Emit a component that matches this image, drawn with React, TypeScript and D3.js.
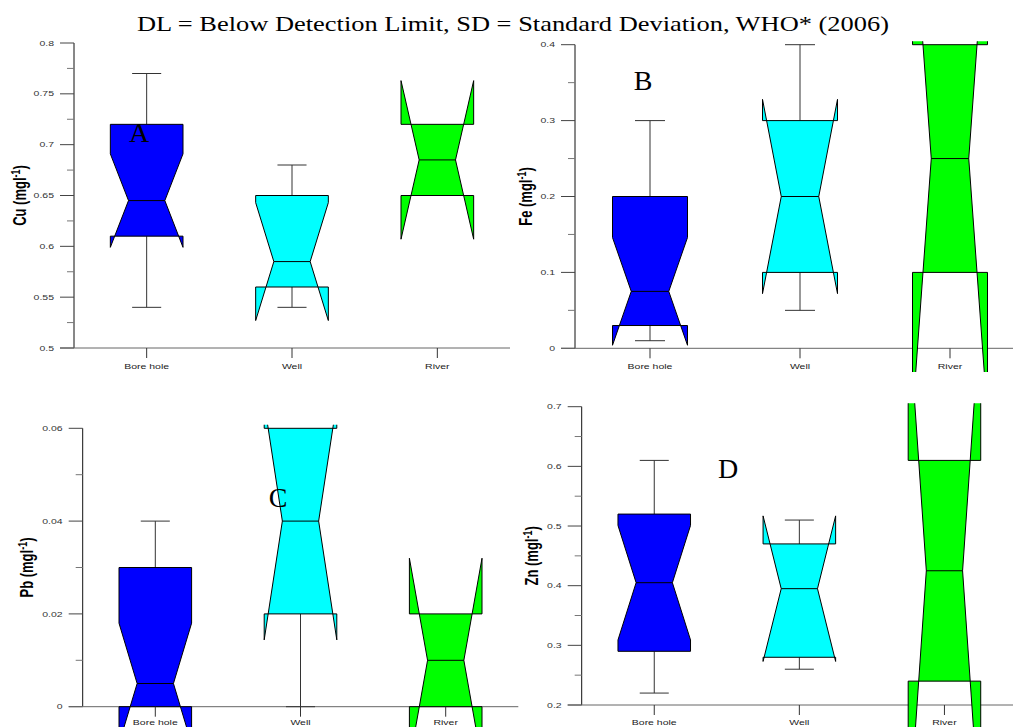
import React from "react";
import * as d3 from "d3";

const categories = ["Bore hole", "Well", "River"];
const boxColors = ["#0000ff", "#00ffff", "#00ff00"];

// Cu
const cuMin = [0.54, 0.54, 0.65];
const cuQ1 = [0.61, 0.56, 0.65];
const cuMedian = [0.645, 0.585, 0.685];
const cuQ3 = [0.72, 0.65, 0.72];
const cuMax = [0.77, 0.68, 0.72];
const cuNotch = [0.046, 0.058, 0.078];
const cuTicks = [0.5, 0.55, 0.6, 0.65, 0.7, 0.75, 0.8];

// Fe
const feMin = [0.01, 0.05, 0.1];
const feQ1 = [0.03, 0.1, 0.1];
const feMedian = [0.075, 0.2, 0.25];
const feQ3 = [0.2, 0.3, 0.4];
const feMax = [0.3, 0.4, 0.4];
const feNotch = [0.071, 0.128, 0.34];
const feTicks = [0, 0.1, 0.2, 0.3, 0.4];

// Pb
const pbMin = [0, 0, 0];
const pbQ1 = [0, 0.02, 0];
const pbMedian = [0.005, 0.04, 0.01];
const pbQ3 = [0.03, 0.06, 0.02];
const pbMax = [0.04, 0.06, 0.02];
const pbNotch = [0.013, 0.0256, 0.022];
const pbTicks = [0, 0.02, 0.04, 0.06];

// Zn
const znMin = [0.22, 0.26, 0.24];
const znQ1 = [0.29, 0.28, 0.24];
const znMedian = [0.405, 0.395, 0.425];
const znQ3 = [0.52, 0.47, 0.61];
const znMax = [0.61, 0.51, 0.61];
const znNotch = [0.096, 0.122, 0.44];
const znTicks = [0.2, 0.3, 0.4, 0.5, 0.6, 0.7];

const TITLE = "DL = Below Detection Limit, SD = Standard Deviation, WHO* (2006)";
const SANS = "'Liberation Sans', Arial, sans-serif";
const SERIF = "'Liberation Serif', 'Times New Roman', serif";
const STRETCH = 1.4; // the original figure is stretched sideways

const panels = [
  { id: "cu", label: "Cu", letter: "A", ticks: cuTicks,
    min: cuMin, q1: cuQ1, med: cuMedian, q3: cuQ3, max: cuMax, notch: cuNotch,
    xLeft: 74, xRight: 510, yTop: 43, yBottom: 348, clipBottom: 372, catDy: 21,
    titleX: 26, letterX: 139, letterY: 142 },
  { id: "fe", label: "Fe", letter: "B", ticks: feTicks,
    min: feMin, q1: feQ1, med: feMedian, q3: feQ3, max: feMax, notch: feNotch,
    xLeft: 575, xRight: 1025, yTop: 44.7, yBottom: 348.3, clipBottom: 372, catDy: 21,
    titleX: 532, letterX: 643, letterY: 90 },
  { id: "pb", label: "Pb", letter: "C", ticks: pbTicks,
    min: pbMin, q1: pbQ1, med: pbMedian, q3: pbQ3, max: pbMax, notch: pbNotch,
    xLeft: 82.7, xRight: 518.3, yTop: 428.3, yBottom: 706.7, clipBottom: 727, catDy: 18.5,
    titleX: 33, letterX: 278, letterY: 507 },
  { id: "zn", label: "Zn", letter: "D", ticks: znTicks,
    min: znMin, q1: znQ1, med: znMedian, q3: znQ3, max: znMax, notch: znNotch,
    xLeft: 581.7, xRight: 1017, yTop: 406.7, yBottom: 705, clipBottom: 727, catDy: 20,
    titleX: 538, letterX: 728, letterY: 478 },
];

const notchPath = (cx: number, w: number, q1: number, med: number, q3: number, notch: number, y: any) => {
  const l = cx - w / 2, r = cx + w / 2, il = cx - w / 4, ir = cx + w / 4;
  const pts: [number, number][] = [
    [l, y(q3)], [l, y(med + notch)], [il, y(med)], [l, y(med - notch)], [l, y(q1)],
    [r, y(q1)], [r, y(med - notch)], [ir, y(med)], [r, y(med + notch)], [r, y(q3)],
  ];
  return d3.line()(pts) + "Z";
};

const Panel = ({ p }: { p: any }) => {
  const yScale = d3.scaleLinear()
    .domain([p.ticks[0], p.ticks[p.ticks.length - 1]])
    .range([p.yBottom, p.yTop]);
  const xScale = d3.scalePoint()
    .domain(categories)
    .range([p.xLeft, p.xRight])
    .padding(0.5);
  const boxW = xScale.step() * 0.5;
  const capW = boxW * 0.4;
  const minor = d3.pairs(p.ticks).map(([a, b]: any) => (a + b) / 2);
  const mid = (p.yTop + p.yBottom) / 2;

  return (
    <g>
      <defs>
        <clipPath id={`clip-${p.id}`}>
          <rect x={0} y={p.yTop - 3.5} width={1013} height={p.clipBottom - p.yTop + 3.5} />
        </clipPath>
      </defs>

      {/* y axis */}
      <line x1={p.xLeft} x2={p.xLeft} y1={p.yTop} y2={p.yBottom} stroke="#111" />
      {p.ticks.map((t: number) => (
        <g key={t} transform={`translate(0, ${yScale(t)})`}>
          <line x1={p.xLeft - 14} x2={p.xLeft} stroke="#444" />
          <text transform={`translate(${p.xLeft - 20}, 0) scale(${STRETCH}, 1)`}
            textAnchor="end" dy="0.35em" fontSize={7.5} fontFamily={SANS} fill="#333">{String(t)}</text>
        </g>
      ))}
      {minor.map((t: number) => (
        <line key={t} x1={p.xLeft - 7} x2={p.xLeft} y1={yScale(t)} y2={yScale(t)} stroke="#777" />
      ))}
      <text transform={`translate(${p.titleX}, ${mid}) scale(${STRETCH}, 1) rotate(-90)`}
        textAnchor="middle" fontSize={13} fontWeight="bold" fontFamily={SANS} fill="#000">
        {`${p.label} (mgl`}
        <tspan fontSize={9} dy={-4}>-1</tspan>
        <tspan dy={4}>)</tspan>
      </text>

      {/* x axis */}
      <line x1={p.xLeft - 14} x2={p.xRight} y1={p.yBottom} y2={p.yBottom} stroke="#666" />

      {/* boxes */}
      <g clipPath={`url(#clip-${p.id})`}>
        {categories.map((c, i) => {
          const cx = xScale(c) as number;
          return (
            <g key={c}>
              {p.max[i] > p.q3[i] && (
                <g stroke="#333">
                  <line x1={cx} x2={cx} y1={yScale(p.q3[i])} y2={yScale(p.max[i])} />
                  <line x1={cx - capW / 2} x2={cx + capW / 2} y1={yScale(p.max[i])} y2={yScale(p.max[i])} />
                </g>
              )}
              {p.min[i] < p.q1[i] && (
                <g stroke="#333">
                  <line x1={cx} x2={cx} y1={yScale(p.q1[i])} y2={yScale(p.min[i])} />
                  <line x1={cx - capW / 2} x2={cx + capW / 2} y1={yScale(p.min[i])} y2={yScale(p.min[i])} />
                </g>
              )}
              <path d={notchPath(cx, boxW, p.q1[i], p.med[i], p.q3[i], p.notch[i], yScale)}
                fill={boxColors[i]} stroke="#000" strokeWidth={1} strokeLinejoin="miter" />
              <line x1={cx - boxW / 4} x2={cx + boxW / 4} y1={yScale(p.med[i])} y2={yScale(p.med[i])}
                stroke="#000" />
            </g>
          );
        })}
      </g>

      {/* category ticks and labels */}
      {categories.map(c => (
        <g key={c} transform={`translate(${xScale(c)}, ${p.yBottom})`}>
          <line y1={0} y2={10} stroke="#333" />
          <text transform={`translate(0, ${p.catDy}) scale(${STRETCH}, 1)`} textAnchor="middle"
            fontSize={7.5} fontFamily={SANS} fill="#222">{c}</text>
        </g>
      ))}

      <text x={p.letterX} y={p.letterY} textAnchor="middle" fontSize={28} fontFamily={SERIF} fill="#000">
        {p.letter}
      </text>
    </g>
  );
};

const App = () => {
  return (
    <svg width={1013} height={727} style={{ position: "absolute", left: 0, top: 0, background: "#fff" }}>
      <rect width={1013} height={727} fill="#fff" />
      <text x={513} y={31} textAnchor="middle" fontSize={22} fontFamily={SERIF} fill="#000"
        textLength={752} lengthAdjust="spacingAndGlyphs">{TITLE}</text>
      {panels.map(p => <Panel key={p.id} p={p} />)}
    </svg>
  );
};

export default App;
